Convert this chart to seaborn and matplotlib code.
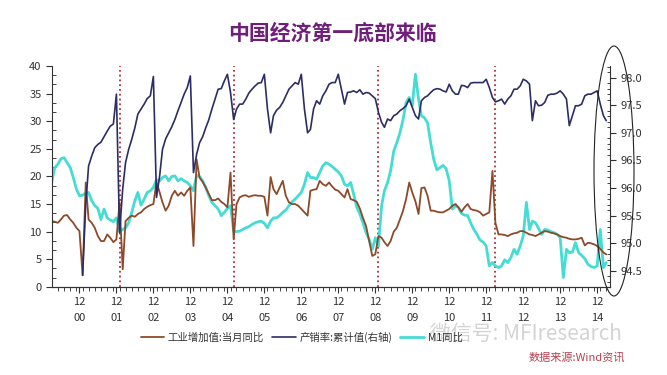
import pandas as pd
import seaborn as sns
import matplotlib.pyplot as plt
import matplotlib.dates as mdates
from matplotlib.patches import Ellipse
from matplotlib.ticker import MultipleLocator

# 月度数据 2000-03 ~ 2015-03
months = pd.date_range('2000-03-01', '2015-03-01', freq='MS')

# 工业增加值:当月同比 (左轴)
ip_yoy = [11.9, 11.8, 11.6, 12.2, 12.9, 13.0, 12.2, 11.6, 10.7, 10.1,
          2.1, 18.9, 12.2, 11.6, 10.7, 9.2, 8.3, 8.3, 9.5, 8.9, 8.1, 8.6,
          15.3, 3.2, 11.9, 12.5, 12.9, 12.7, 13.2, 13.5, 14.1, 14.5, 14.8, 15.0,
          19.0, 17.1, 15.3, 13.8, 14.7, 16.5, 17.4, 16.5, 17.1, 16.5, 17.4, 18.0,
          7.4, 23.1, 19.8, 19.0, 18.0, 16.8, 15.7, 15.7, 16.0, 15.4, 15.0, 14.4,
          20.7, 8.6, 15.0, 16.2, 16.5, 16.6, 16.3, 16.5, 16.6, 16.5, 16.5, 16.3,
          12.9, 19.9, 17.7, 16.8, 18.0, 19.2, 16.5, 15.3, 15.0, 15.0, 14.7, 14.1,
          13.5, 12.9, 17.4, 17.6, 17.7, 19.2, 18.6, 18.3, 18.9, 18.2, 17.6, 17.4,
          16.8, 16.2, 17.7, 15.9, 15.7, 15.4, 14.2, 12.5, 11.0, 8.3, 5.6, 5.9,
          9.2, 8.9, 8.1, 7.4, 8.3, 10.0, 10.7, 12.2, 13.8, 15.9, 18.9, 17.1,
          15.5, 13.2, 17.9, 18.0, 16.5, 13.8, 13.8, 13.6, 13.5, 13.5, 13.8, 14.1,
          14.7, 15.0, 14.4, 13.6, 14.4, 15.0, 14.1, 13.9, 13.8, 13.5, 12.9, 13.2,
          13.5, 21.0, 11.6, 9.5, 9.5, 9.4, 9.2, 9.5, 9.7, 9.8, 10.1, 10.1,
          9.8, 9.5, 9.4, 9.2, 9.5, 9.8, 10.1, 10.0, 9.8, 9.7, 9.5, 9.2,
          9.0, 8.9, 8.7, 8.6, 8.6, 8.7, 8.9, 7.5, 8.0, 7.9, 7.7, 7.4,
          6.9, 6.2, 5.9]

# M1同比 (左轴)
m1_yoy = [18.9, 21.6, 22.2, 23.2, 23.4, 22.5, 21.6, 19.8, 17.7, 16.5,
          16.6, 17.0, 17.1, 15.6, 14.7, 14.2, 12.2, 14.1, 12.5, 12.1, 11.8, 12.5,
          10.1, 10.4, 10.7, 11.6, 13.5, 15.6, 17.1, 14.8, 15.9, 17.1, 17.4, 18.0,
          19.4, 19.2, 19.8, 20.1, 19.2, 20.0, 20.1, 19.2, 19.6, 19.2, 18.9, 18.3,
          17.4, 20.2, 20.0, 19.2, 18.0, 16.5, 15.3, 14.7, 14.1, 12.9, 13.5, 14.2,
          14.7, 10.1, 10.0, 10.1, 10.4, 10.7, 10.9, 11.3, 11.6, 11.8, 11.9, 11.5,
          10.7, 11.9, 12.5, 12.5, 12.9, 13.5, 13.9, 14.7, 15.4, 15.9, 16.5, 17.1,
          18.6, 20.7, 19.8, 19.8, 19.5, 20.7, 21.9, 22.5, 22.2, 21.8, 21.3, 20.8,
          20.1, 18.6, 18.3, 18.9, 16.8, 14.4, 13.2, 11.6, 9.8, 8.6, 6.8, 8.9,
          7.4, 14.7, 17.4, 18.9, 21.0, 24.6, 26.1, 27.9, 30.3, 33.4, 34.3, 32.8,
          38.5, 34.0, 31.0, 30.6, 29.7, 26.1, 23.1, 21.2, 21.6, 22.0, 21.4, 19.2,
          14.1, 14.7, 14.4, 13.3, 13.0, 12.9, 11.6, 10.4, 9.5, 8.5, 8.1, 7.4,
          3.8, 4.4, 3.8, 3.5, 3.8, 4.9, 4.4, 5.3, 6.8, 5.9, 7.4, 9.2,
          15.3, 10.4, 11.9, 11.6, 10.6, 9.5, 10.4, 10.3, 10.0, 9.8, 9.5, 8.9,
          1.7, 6.8, 6.2, 6.3, 8.0, 6.2, 5.7, 5.1, 4.1, 3.7, 3.5, 3.8,
          10.4, 3.5, 4.4]

# 产销率:累计值 (右轴), 2001-01 起
sales_months = months[10:]
sales_ratio = [94.42, 95.70, 96.40, 96.58, 96.73, 96.79, 96.83, 96.93, 97.03, 97.12, 97.16, 97.70,
               95.19, 95.98, 96.46, 96.70, 96.88, 97.09, 97.34, 97.43, 97.52, 97.62, 97.67, 98.02,
               95.83, 96.22, 96.70, 96.89, 97.00, 97.11, 97.24, 97.40, 97.55, 97.70, 97.82, 98.03,
               96.28, 96.61, 96.82, 96.93, 97.09, 97.24, 97.43, 97.61, 97.79, 97.80, 97.94, 98.06,
               97.73, 97.24, 97.43, 97.52, 97.52, 97.61, 97.72, 97.79, 97.85, 97.90, 97.91, 98.06,
               97.43, 97.00, 97.31, 97.41, 97.46, 97.55, 97.67, 97.79, 97.85, 97.91, 97.88, 98.06,
               97.43, 97.00, 97.06, 97.43, 97.58, 97.52, 97.67, 97.76, 97.88, 97.91, 97.91, 98.06,
               97.79, 97.52, 97.73, 97.74, 97.76, 97.73, 97.78, 97.70, 97.73, 97.72, 97.67, 97.62,
               97.37, 97.19, 97.10, 97.25, 97.22, 97.31, 97.34, 97.40, 97.44, 97.49, 97.61, 97.46,
               97.31, 97.25, 97.58, 97.64, 97.67, 97.73, 97.78, 97.80, 97.79, 97.76, 97.74, 97.88,
               97.76, 97.70, 97.70, 97.86, 97.85, 97.82, 97.90, 97.91, 97.91, 97.91, 97.91, 97.97,
               97.82, 97.64, 97.56, 97.58, 97.61, 97.52, 97.61, 97.67, 97.79, 97.79, 97.85, 97.97,
               97.94, 97.88, 97.22, 97.58, 97.49, 97.50, 97.55, 97.68, 97.70, 97.70, 97.72, 97.76,
               97.70, 97.61, 97.13, 97.31, 97.49, 97.49, 97.52, 97.67, 97.70, 97.70, 97.73, 97.76,
               97.52, 97.31, 97.22]

# 经济底部标记
bottom_marks = pd.to_datetime(['2002-01-01', '2005-02-01', '2009-01-01', '2012-03-01'])

tick_dates = pd.date_range('2000-12-01', '2014-12-01', freq='12MS')
tick_years = ['00', '01', '02', '03', '04', '05', '06', '07',
              '08', '09', '10', '11', '12', '13', '14']

sns.set_style('ticks')
plt.rcParams['font.family'] = ['Noto Sans CJK SC', 'DejaVu Sans']
plt.rcParams['axes.unicode_minus'] = False

brown = '#8c4a2a'
navy = '#2d2d66'
cyan = '#45dcd4'

fig = plt.figure(figsize=(6.67, 3.75), dpi=100)
ax = fig.add_axes([0.078, 0.235, 0.837, 0.589])
ax2 = ax.twinx()

sns.lineplot(x=months, y=m1_yoy, ax=ax, color=cyan, lw=2.0, label='M1同比')
sns.lineplot(x=months, y=ip_yoy, ax=ax, color=brown, lw=1.3, label='工业增加值:当月同比')
sns.lineplot(x=sales_months, y=sales_ratio, ax=ax2, color=navy, lw=1.2,
             label='产销率:累计值(右轴)')
for a in (ax, ax2):
    if a.get_legend():
        a.get_legend().remove()

for d in bottom_marks:
    ax.axvline(d, color='#a8323c', ls=':', lw=1.3, zorder=1)

ax.set_xlim(pd.Timestamp('2000-03-05'), pd.Timestamp('2015-04-10'))
ax.set_ylim(0, 40)
ax2.set_ylim(94.21, 98.21)

ax.set_yticks(range(0, 41, 5))
ax.yaxis.set_minor_locator(MultipleLocator(5 / 3))
ax2.set_yticks([94.5, 95.0, 95.5, 96.0, 96.5, 97.0, 97.5, 98.0])
ax2.set_yticklabels(['94.5', '95.0', '95.5', '96.0', '96.5', '97.0', '97.5', '98.0'])
ax2.yaxis.set_minor_locator(MultipleLocator(0.1))

ax.set_xticks(tick_dates)
ax.set_xticklabels(['12\n' + y for y in tick_years])
ax.xaxis.set_minor_locator(mdates.MonthLocator(interval=2))
for lab in ax.get_xticklabels():
    lab.set_linespacing(1.7)

ax.set_xlabel('')
ax.set_ylabel('')
ax2.set_ylabel('')

for a in (ax, ax2):
    a.spines['top'].set_visible(False)
    for s in a.spines.values():
        s.set_color('#333333')
        s.set_linewidth(0.8)
ax.spines['right'].set_visible(False)
ax2.spines['left'].set_visible(False)

ax.tick_params(axis='both', which='major', labelsize=8, length=4, width=0.8,
               colors='#333333', direction='out')
ax.tick_params(axis='y', which='minor', length=3, width=0.6, direction='in')
ax.tick_params(axis='x', which='minor', length=3, width=0.6, direction='out')
ax2.tick_params(axis='y', which='major', labelsize=8, length=4, width=0.8,
                colors='#333333', direction='out')
ax2.tick_params(axis='y', which='minor', length=2.5, width=0.6, direction='in')

# 标题
fig.text(0.498, 0.912, '中国经济第一底部来临', ha='center', va='center',
         fontsize=15, fontweight='bold', color='#6f1f7a')

# 图例
h1, l1 = ax.get_legend_handles_labels()
h2, l2 = ax2.get_legend_handles_labels()
handles = [h1[1], h2[0], h1[0]]
labels = [l1[1], l2[0], l1[0]]
fig.legend(handles, labels, loc='center', bbox_to_anchor=(0.452, 0.101), ncol=3,
           frameon=False, fontsize=7.5, handlelength=2.3, handletextpad=0.3,
           columnspacing=0.8, labelcolor='#333333')

# 水印与来源
fig.text(0.645, 0.11, '微信号: MFIresearch', ha='left', va='center',
         fontsize=15, color='#d4d4d4', zorder=0)
fig.text(0.937, 0.048, '数据来源:Wind资讯', ha='right', va='center',
         fontsize=8, style='italic', color='#b8404f')

# 右轴圈注
fig.add_artist(Ellipse((614 / 667, 1 - 171 / 375), 40 / 667, 250 / 375,
                       transform=fig.transFigure, fill=False, lw=0.8,
                       edgecolor='#222222'))

fig.savefig('out.png', dpi=100)
